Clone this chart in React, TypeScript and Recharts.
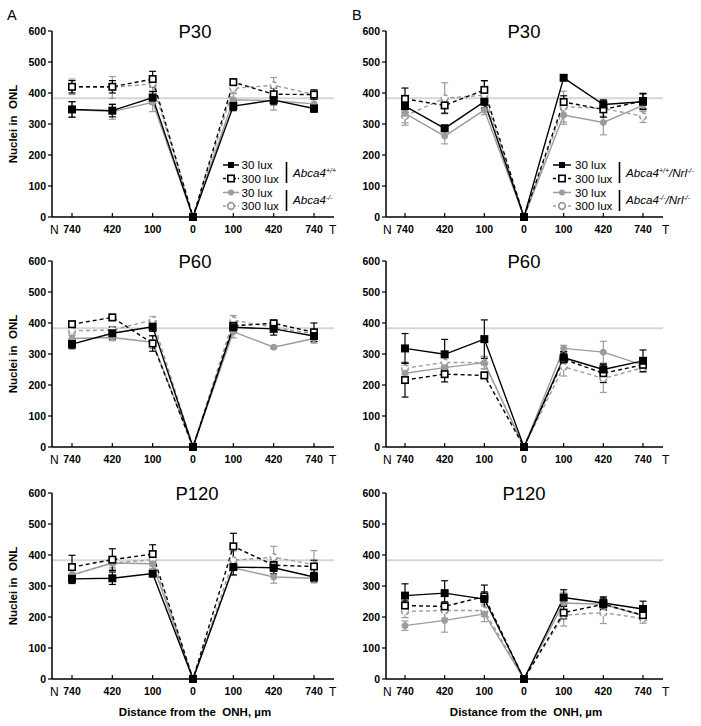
import React from 'react';
import { LineChart, Line, XAxis, YAxis, ReferenceLine, ErrorBar } from 'recharts';

const FONT = '"Liberation Sans", Arial, sans-serif';
const GRAY = '#9c9c9c';

const POSITIONS = ['N740', 'N420', 'N100', '0', 'T100', 'T420', 'T740'];
const TICK_LABELS = ['740', '420', '100', '0', '100', '420', '740'];
const Y_TICKS = [0, 100, 200, 300, 400, 500, 600];
const BASELINE = 383;

// A: Abca4+/+ (black) vs Abca4-/- (gray)
const A_P30_B30 = [347, 343, 385, 0, 358, 377, 350];
const A_P30_B300 = [420, 420, 445, 0, 435, 396, 395];
const A_P30_G30 = [347, 340, 370, 0, 378, 375, 365];
const A_P30_G300 = [420, 418, 430, 0, 415, 425, 395];
const A_P30_B30_ERR = [25, 20, 20, 0, 15, 15, 12];
const A_P30_B300_ERR = [20, 20, 25, 0, 10, 20, 15];
const A_P30_G30_ERR = [25, 25, 30, 0, 20, 30, 15];
const A_P30_G300_ERR = [25, 35, 25, 0, 15, 25, 15];

const A_P60_B30 = [332, 367, 388, 0, 386, 381, 358];
const A_P60_B300 = [396, 418, 334, 0, 391, 399, 370];
const A_P60_G30 = [350, 353, 338, 0, 372, 322, 350];
const A_P60_G300 = [375, 377, 410, 0, 409, 386, 365];
const A_P60_B30_ERR = [15, 20, 15, 0, 15, 20, 10];
const A_P60_B300_ERR = [10, 10, 25, 0, 10, 10, 30];
const A_P60_G30_ERR = [10, 10, 20, 0, 20, 5, 15];
const A_P60_G300_ERR = [10, 10, 10, 0, 15, 10, 15];

const A_P120_B30 = [323, 325, 340, 0, 361, 359, 329];
const A_P120_B300 = [361, 385, 403, 0, 428, 367, 363];
const A_P120_G30 = [336, 374, 372, 0, 359, 329, 325];
const A_P120_G300 = [335, 374, 385, 0, 383, 393, 369];
const A_P120_B30_ERR = [15, 20, 10, 0, 25, 20, 15];
const A_P120_B300_ERR = [38, 35, 30, 0, 42, 20, 20];
const A_P120_G30_ERR = [20, 15, 15, 0, 25, 20, 15];
const A_P120_G300_ERR = [25, 20, 20, 0, 30, 35, 45];

// B: Abca4+/+/Nrl-/- (black) vs Abca4-/-/Nrl-/- (gray)
const B_P30_B30 = [358, 286, 372, 0, 449, 363, 372];
const B_P30_B300 = [381, 360, 410, 0, 371, 347, 374];
const B_P30_G30 = [334, 261, 345, 0, 329, 305, 360];
const B_P30_G300 = [326, 383, 393, 0, 356, 350, 325];
const B_P30_B30_ERR = [20, 10, 20, 0, 8, 15, 25];
const B_P30_B300_ERR = [35, 25, 30, 0, 20, 25, 25];
const B_P30_G30_ERR = [30, 25, 15, 0, 30, 40, 20];
const B_P30_G300_ERR = [30, 50, 45, 0, 50, 25, 20];

const B_P60_B30 = [318, 299, 348, 0, 288, 250, 278];
const B_P60_B300 = [216, 235, 231, 0, 283, 238, 265];
const B_P60_G30 = [238, 256, 272, 0, 318, 306, 264];
const B_P60_G300 = [254, 273, 272, 0, 259, 221, 256];
const B_P60_B30_ERR = [48, 48, 62, 0, 15, 15, 35];
const B_P60_B300_ERR = [55, 25, 10, 0, 25, 30, 15];
const B_P60_G30_ERR = [25, 15, 20, 0, 10, 35, 10];
const B_P60_G300_ERR = [20, 15, 20, 0, 30, 45, 15];

const B_P120_B30 = [269, 277, 258, 0, 263, 245, 226];
const B_P120_B300 = [237, 234, 266, 0, 214, 241, 206];
const B_P120_G30 = [172, 189, 210, 0, 245, 241, 204];
const B_P120_G300 = [218, 221, 221, 0, 206, 214, 195];
const B_P120_B30_ERR = [38, 40, 45, 0, 25, 20, 25];
const B_P120_B300_ERR = [15, 15, 15, 0, 20, 20, 15];
const B_P120_G30_ERR = [15, 38, 25, 0, 35, 20, 10];
const B_P120_G300_ERR = [20, 25, 20, 0, 35, 35, 15];

const COLS = [
  { left: 0, width: 350, yAxisWidth: 40, marginLeft: 12, marginRight: 16, padLeft: 20 },
  { left: 350, width: 351, yAxisWidth: 30, marginLeft: 6, marginRight: 38, padLeft: 19 },
];
const ROW_TOPS = [0, 230, 462];

const PANELS = [
  { col: 0, row: 0, s: [A_P30_B30, A_P30_B300, A_P30_G30, A_P30_G300], e: [A_P30_B30_ERR, A_P30_B300_ERR, A_P30_G30_ERR, A_P30_G300_ERR] },
  { col: 1, row: 0, s: [B_P30_B30, B_P30_B300, B_P30_G30, B_P30_G300], e: [B_P30_B30_ERR, B_P30_B300_ERR, B_P30_G30_ERR, B_P30_G300_ERR] },
  { col: 0, row: 1, s: [A_P60_B30, A_P60_B300, A_P60_G30, A_P60_G300], e: [A_P60_B30_ERR, A_P60_B300_ERR, A_P60_G30_ERR, A_P60_G300_ERR] },
  { col: 1, row: 1, s: [B_P60_B30, B_P60_B300, B_P60_G30, B_P60_G300], e: [B_P60_B30_ERR, B_P60_B300_ERR, B_P60_G30_ERR, B_P60_G300_ERR] },
  { col: 0, row: 2, s: [A_P120_B30, A_P120_B300, A_P120_G30, A_P120_G300], e: [A_P120_B30_ERR, A_P120_B300_ERR, A_P120_G30_ERR, A_P120_G300_ERR] },
  { col: 1, row: 2, s: [B_P120_B30, B_P120_B300, B_P120_G30, B_P120_G300], e: [B_P120_B30_ERR, B_P120_B300_ERR, B_P120_G30_ERR, B_P120_G300_ERR] },
];

const squareDot = (filled: boolean) => (props: any) => {
  const { cx, cy, index } = props;
  if (cx == null || cy == null) return <g key={index} />;
  return (
    <rect key={index} x={cx - 3.2} y={cy - 3.2} width={6.4} height={6.4}
      fill={filled ? '#000' : '#fff'} stroke="#000" strokeWidth={1.6} />
  );
};

const XTick = (props: any) => {
  const { x, y, index } = props;
  return (
    <g>
      <line x1={x} x2={x} y1={y} y2={y - 4} stroke="#000" strokeWidth={1.2} />
      <text x={x} y={y + 16} textAnchor="middle" fontSize={10.5} fontWeight={700} fill="#000" fontFamily={FONT}>
        {TICK_LABELS[index]}
      </text>
    </g>
  );
};

const Panel = ({ col, row, s, e }: any) => {
  const c = COLS[col];
  const rows = POSITIONS.map((pos, i) => ({
    pos,
    b30: s[0][i], b300: s[1][i], g30: s[2][i], g300: s[3][i],
    b30e: e[0][i], b300e: e[1][i], g30e: e[2][i], g300e: e[3][i],
  }));
  const errProps = { width: 3.5, strokeWidth: 1.2, direction: 'y' as const };
  return (
    <div style={{ position: 'absolute', left: c.left, top: ROW_TOPS[row] }}>
      <LineChart width={c.width} height={250} data={rows}
        margin={{ top: 31, right: c.marginRight, bottom: 3, left: c.marginLeft }}>
        <ReferenceLine y={BASELINE} stroke="#d6d6d6" strokeWidth={2} ifOverflow="extendDomain" />
        <XAxis dataKey="pos" height={30} tickSize={0} tickMargin={0} tickLine={false} interval={0}
          padding={{ left: c.padLeft, right: 20 }} axisLine={{ stroke: '#000', strokeWidth: 1.5 }} tick={<XTick />} />
        <YAxis domain={[0, 600]} ticks={Y_TICKS} interval={0} width={c.yAxisWidth} tickSize={4} tickMargin={2}
          axisLine={{ stroke: '#000', strokeWidth: 1.5 }} tickLine={{ stroke: '#000', strokeWidth: 1.2 }}
          tick={{ fontSize: 10.5, fontWeight: 700, fill: '#000', fontFamily: FONT }} />
        <Line dataKey="g300" stroke={GRAY} strokeWidth={1.4} strokeDasharray="4 3" isAnimationActive={false}
          dot={{ r: 3.3, fill: '#fff', stroke: GRAY, strokeWidth: 1.7 }} activeDot={false}>
          <ErrorBar dataKey="g300e" stroke={GRAY} {...errProps} />
        </Line>
        <Line dataKey="g30" stroke={GRAY} strokeWidth={1.4} isAnimationActive={false}
          dot={{ r: 3, fill: GRAY, stroke: GRAY, strokeWidth: 1 }} activeDot={false}>
          <ErrorBar dataKey="g30e" stroke={GRAY} {...errProps} />
        </Line>
        <Line dataKey="b300" stroke="#000" strokeWidth={1.4} strokeDasharray="4 3" isAnimationActive={false}
          dot={squareDot(false)} activeDot={false}>
          <ErrorBar dataKey="b300e" stroke="#000" {...errProps} />
        </Line>
        <Line dataKey="b30" stroke="#000" strokeWidth={1.4} isAnimationActive={false}
          dot={squareDot(true)} activeDot={false}>
          <ErrorBar dataKey="b30e" stroke="#000" {...errProps} />
        </Line>
      </LineChart>
    </div>
  );
};

const Geno = ({ x, y, parts }: { x: number; y: number; parts: [string, string][] }) => (
  <text x={x} y={y} fontSize={11.6} fontStyle="italic" fill="#000" fontFamily={FONT}>
    {parts.map(([base, sup], i) => (
      <React.Fragment key={i}>
        <tspan dy={i === 0 ? 0 : 4}>{base}</tspan>
        <tspan fontSize={7} dy={-4}>{sup}</tspan>
      </React.Fragment>
    ))}
  </text>
);

const LegendBlock = ({ lx1, lx2, tx, bx, genoTop, genoBottom }: any) => {
  const ys = [165, 178.5, 192.5, 206];
  const mx = (lx1 + lx2) / 2;
  return (
    <g>
      <line x1={lx1} x2={lx2} y1={ys[0]} y2={ys[0]} stroke="#000" strokeWidth={1.5} />
      <rect x={mx - 3} y={ys[0] - 3} width={6} height={6} fill="#000" />
      <line x1={lx1} x2={lx2} y1={ys[1]} y2={ys[1]} stroke="#000" strokeWidth={1.5} strokeDasharray="3 2" />
      <rect x={mx - 3.2} y={ys[1] - 3.2} width={6.4} height={6.4} fill="#fff" stroke="#000" strokeWidth={1.6} />
      <line x1={lx1} x2={lx2} y1={ys[2]} y2={ys[2]} stroke={GRAY} strokeWidth={1.5} />
      <circle cx={mx} cy={ys[2]} r={3} fill={GRAY} />
      <line x1={lx1} x2={lx2} y1={ys[3]} y2={ys[3]} stroke={GRAY} strokeWidth={1.5} strokeDasharray="3 2" />
      <circle cx={mx} cy={ys[3]} r={3.3} fill="#fff" stroke={GRAY} strokeWidth={1.7} />
      {['30 lux', '300 lux', '30 lux', '300 lux'].map((t, i) => (
        <text key={i} x={tx} y={ys[i] + 4.2} fontSize={11.6} fill="#000" fontFamily={FONT}>{t}</text>
      ))}
      <line x1={bx} x2={bx} y1={162} y2={183} stroke="#000" strokeWidth={1.6} />
      <line x1={bx} x2={bx} y1={190} y2={211} stroke="#000" strokeWidth={1.6} />
      <Geno x={bx + 6.5} y={177} parts={genoTop} />
      <Geno x={bx + 6.5} y={204} parts={genoBottom} />
    </g>
  );
};

const TITLES = [
  { t: 'P30', x: 195, y: 37.5 }, { t: 'P30', x: 524, y: 37.5 },
  { t: 'P60', x: 195, y: 267.5 }, { t: 'P60', x: 524, y: 267.5 },
  { t: 'P120', x: 197, y: 499.5 }, { t: 'P120', x: 524, y: 499.5 },
];

const Overlay = () => (
  <svg width={701} height={726} style={{ position: 'absolute', left: 0, top: 0, pointerEvents: 'none' }}>
    <text x={7} y={19.5} fontSize={14.5} fill="#000" fontFamily={FONT}>A</text>
    <text x={352} y={19.5} fontSize={14.5} fill="#000" fontFamily={FONT}>B</text>
    {TITLES.map((d, i) => (
      <text key={i} x={d.x} y={d.y} fontSize={18.5} textAnchor="middle" fill="#000" fontFamily={FONT}>{d.t}</text>
    ))}
    {ROW_TOPS.map((top, r) => (
      <g key={r}>
        <text transform={`translate(17, ${top + 124}) rotate(-90)`} textAnchor="middle" fontSize={11.5}
          fontWeight={700} fill="#000" fontFamily={FONT} style={{ whiteSpace: 'pre' }}>Nuclei in  ONL</text>
        <text x={50} y={top + 233.5} fontSize={12} fill="#000" fontFamily={FONT}>N</text>
        <text x={329} y={top + 233.5} fontSize={12} fill="#000" fontFamily={FONT}>T</text>
        <text x={383} y={top + 233.5} fontSize={12} fill="#000" fontFamily={FONT}>N</text>
        <text x={662} y={top + 233.5} fontSize={12} fill="#000" fontFamily={FONT}>T</text>
      </g>
    ))}
    <text x={195} y={716} textAnchor="middle" fontSize={11.5} fontWeight={700} fill="#000" fontFamily={FONT}
      style={{ whiteSpace: 'pre' }}>Distance from the  ONH, µm</text>
    <text x={526} y={716} textAnchor="middle" fontSize={11.5} fontWeight={700} fill="#000" fontFamily={FONT}
      style={{ whiteSpace: 'pre' }}>Distance from the  ONH, µm</text>
    <LegendBlock lx1={223} lx2={239} tx={241.5} bx={286.5}
      genoTop={[['Abca4', '+/+']]} genoBottom={[['Abca4', '-/-']]} />
    <LegendBlock lx1={553} lx2={571} tx={575} bx={619.5}
      genoTop={[['Abca4', '+/+'], ['/Nrl', '-/-']]} genoBottom={[['Abca4', '-/-'], ['/Nrl', '-/-']]} />
  </svg>
);

export default function App() {
  return (
    <div style={{ position: 'absolute', left: 0, top: 0, width: 701, height: 726, background: '#fff', fontFamily: FONT }}>
      {PANELS.map((p, i) => (
        <Panel key={i} {...p} />
      ))}
      <Overlay />
    </div>
  );
}
